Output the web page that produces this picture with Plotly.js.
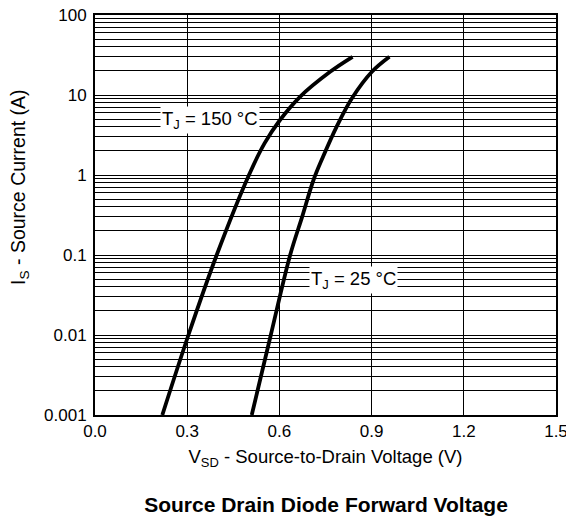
<!DOCTYPE html>
<html>
<head>
<meta charset="utf-8">
<script src="https://cdn.plot.ly/plotly-3.0.1.min.js"></script>
<style>html,body{margin:0;padding:0;background:#fff;}#chart{width:566px;height:517px;}</style>
</head>
<body>
<div id="chart"></div>
<script>
// Data
const vsd150 = [0.219, 0.304, 0.396, 0.501, 0.552, 0.602, 0.667, 0.765, 0.838];
const is150  = [0.001, 0.01, 0.1, 1, 2.5, 4.87, 9.5, 19.5, 30];
const vsd25  = [0.510, 0.572, 0.635, 0.674, 0.711, 0.742, 0.786, 0.836, 0.901, 0.958];
const is25   = [0.001, 0.01, 0.1, 0.30, 0.866, 1.69, 4.0, 9.1, 19.5, 30];

const xTickVals = [0.0, 0.3, 0.6, 0.9, 1.2, 1.5];
const xTickText = ["0.0", "0.3", "0.6", "0.9", "1.2", "1.5"];
const yDecades = [0.001, 0.01, 0.1, 1, 10, 100];
const yDecadeText = ["0.001", "0.01", "0.1", "1", "10", "100"];
const yMinorDigits = [1, 2, 3, 4, 5, 6, 7, 8, 9];

const labels = ["T<sub>J</sub> = 150 °C", "T<sub>J</sub> = 25 °C"];
const labelX = [0.374, 0.841];
const labelY = [4.87, 0.0487];

const chartTitle = "<b>Source Drain Diode Forward Voltage</b>";
const xTitle = "V<sub>SD</sub> - Source-to-Drain Voltage (V)";
const yTitle = "I<sub>S</sub> - Source Current (A)";

// build y ticks (every 1..9 per decade gets a grid line, only decades are labelled)
const yTickVals = [], yTickText = [];
for (let d = 0; d < yDecades.length; d++) {
  if (d === yDecades.length - 1) { yTickVals.push(yDecades[d]); yTickText.push(yDecadeText[d]); break; }
  for (const m of yMinorDigits) {
    yTickVals.push(+(yDecades[d] * m).toPrecision(3));
    yTickText.push(m === 1 ? yDecadeText[d] : "");
  }
}

const font = "Liberation Sans, Arial, Helvetica, sans-serif";
const lineStyle = {color: "#000", width: 3.8, shape: "spline", smoothing: 1};
const traces = [
  {x: vsd150, y: is150, mode: "lines", line: lineStyle, hoverinfo: "skip"},
  {x: vsd25, y: is25, mode: "lines", line: lineStyle, hoverinfo: "skip"}
];

const annotations = labels.map((t, i) => ({
  x: labelX[i], y: Math.log10(labelY[i]), xref: "x", yref: "y", text: t, showarrow: false,
  bgcolor: "#fff", font: {size: 18.5, color: "#000"}, borderpad: 1
}));
annotations.push({
  text: yTitle, textangle: -90, showarrow: false,
  xref: "paper", yref: "paper", x: -0.165, y: 0.57, xanchor: "center", yanchor: "middle",
  font: {size: 19.5, color: "#000"}
});

const layout = {
  width: 566, height: 517,
  margin: {l: 95, r: 10, t: 15, b: 102},
  paper_bgcolor: "#fff", plot_bgcolor: "#fff",
  showlegend: false,
  font: {family: font, size: 17, color: "#000"},
  title: {text: chartTitle, font: {family: font, size: 21, color: "#000"},
          xref: "container", yref: "container", x: 0.576, xanchor: "center", y: 0.023, yanchor: "middle"},
  xaxis: {
    range: [0, 1.5], tickvals: xTickVals, ticktext: xTickText, ticks: "",
    showgrid: true, gridcolor: "#000", gridwidth: 1,
    showline: true, linecolor: "#000", linewidth: 2, mirror: true, zeroline: false,
    tickfont: {size: 17}, ticklabeloverflow: "allow",
    title: {text: xTitle, font: {size: 18.5}, standoff: 10}
  },
  yaxis: {
    type: "log", range: [-3, 2], tickvals: yTickVals, ticktext: yTickText, ticks: "",
    showgrid: true, gridcolor: "#000", gridwidth: 1,
    showline: true, linecolor: "#000", linewidth: 2, mirror: true, zeroline: false,
    tickfont: {size: 17}, ticklabelstandoff: 3
  },
  annotations: annotations
};

Plotly.newPlot("chart", traces, layout, {staticPlot: true, displayModeBar: false});
</script>
</body>
</html>
